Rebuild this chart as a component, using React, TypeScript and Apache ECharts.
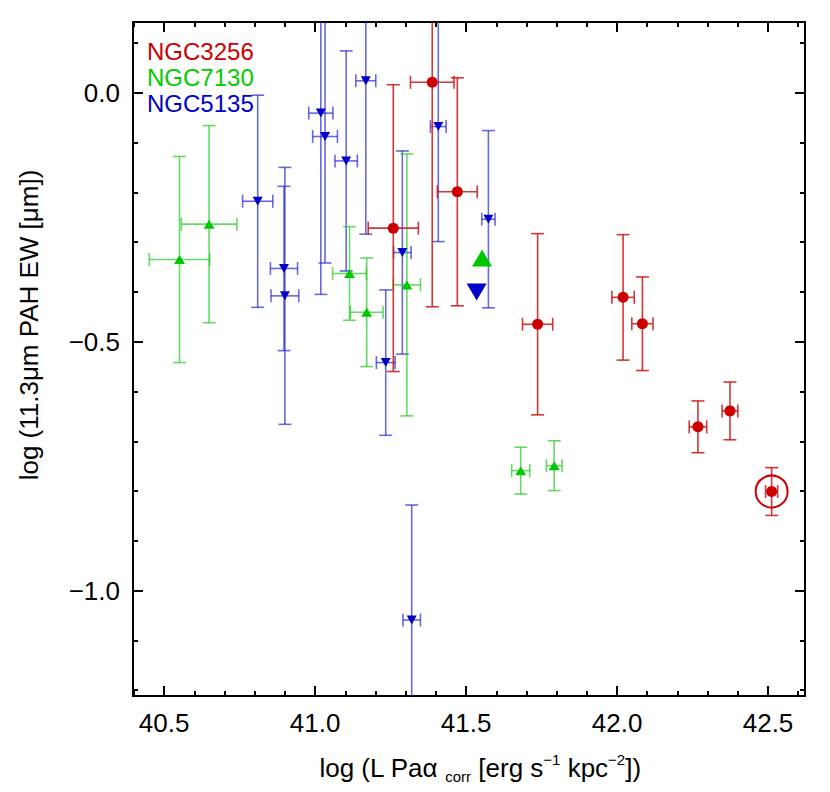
import React, { useEffect, useRef } from "react";
import * as echarts from "echarts";

// ---- data ----
const redX = [41.259, 41.388, 41.471, 41.737, 42.02, 42.084, 42.268, 42.374, 42.512];
const redY = [-0.272, 0.021, -0.199, -0.465, -0.411, -0.464, -0.671, -0.639, -0.801];
const redXErr = [0.083, 0.072, 0.066, 0.05, 0.037, 0.035, 0.029, 0.026, 0.02];
const redYErr = [0.288, 0.451, 0.229, 0.182, 0.126, 0.094, 0.052, 0.058, 0.048];

const greenX = [40.551, 40.649, 41.114, 41.171, 41.304, 41.681, 41.792];
const greenY = [-0.335, -0.264, -0.363, -0.441, -0.386, -0.759, -0.749];
const greenXErr = [0.1, 0.092, 0.056, 0.054, 0.045, 0.03, 0.026];
const greenYErr = [0.207, 0.198, 0.094, 0.109, 0.263, 0.047, 0.05];

const blueX = [40.81, 40.897, 40.9, 41.019, 41.033, 41.103, 41.168, 41.234, 41.289, 41.32, 41.408, 41.574];
const blueY = [-0.218, -0.353, -0.408, -0.041, -0.088, -0.137, 0.024, -0.542, -0.321, -1.059, -0.068, -0.254];
const blueXErr = [0.05, 0.045, 0.046, 0.04, 0.041, 0.037, 0.033, 0.031, 0.029, 0.029, 0.026, 0.022];
const blueYErr = [0.213, 0.165, 0.258, 0.364, 0.254, 0.221, 0.308, 0.146, 0.204, 0.231, 0.231, 0.178];

const greenMean = [41.553, -0.332];
const blueMean = [41.535, -0.4];
const circledIndex = 8; // NGC3256 nucleus point circled

const legendNames = ["NGC3256", "NGC7130", "NGC5135"];

const xMajor = [40.5, 41.0, 41.5, 42.0, 42.5];
const xMinor = [40.4, 40.5, 40.6, 40.7, 40.8, 40.9, 41.0, 41.1, 41.2, 41.3, 41.4, 41.5, 41.6, 41.7, 41.8, 41.9, 42.0, 42.1, 42.2, 42.3, 42.4, 42.5, 42.6];
const yMajor = [0.0, -0.5, -1.0];
const yMinor = [0.1, 0.0, -0.1, -0.2, -0.3, -0.4, -0.5, -0.6, -0.7, -0.8, -0.9, -1.0, -1.1, -1.2];

const X_MIN = 40.397;
const X_MAX = 42.6225;
const Y_MIN = -1.2116;
const Y_MAX = 0.142;

const RED = "#cc0000";
const GREEN = "#00c800";
const BLUE = "#0000c8";
const FONT = "'Liberation Sans', Arial, Helvetica, sans-serif";

function zip4(x: number[], y: number[], xe: number[], ye: number[]) {
  return x.map((v, i) => [v, y[i], xe[i], ye[i]]);
}

function errRender(color: string) {
  return (params: any, api: any) => {
    const x = api.value(0);
    const y = api.value(1);
    const xe = api.value(2);
    const ye = api.value(3);
    const top = api.coord([x, y + ye]);
    const bot = api.coord([x, y - ye]);
    const lft = api.coord([x - xe, y]);
    const rgt = api.coord([x + xe, y]);
    const cw = 6.5;
    const st = { stroke: color, lineWidth: 1.6, fill: null };
    const cs = params.coordSys;
    const line = (x1: number, y1: number, x2: number, y2: number) => ({
      type: "line",
      shape: { x1, y1, x2, y2 },
      style: st,
    });
    return {
      type: "group",
      clipPath: { type: "rect", shape: { x: cs.x, y: cs.y, width: cs.width, height: cs.height } },
      children: [
        line(top[0], top[1], bot[0], bot[1]),
        line(top[0] - cw, top[1], top[0] + cw, top[1]),
        line(bot[0] - cw, bot[1], bot[0] + cw, bot[1]),
        line(lft[0], lft[1], rgt[0], rgt[1]),
        line(lft[0], lft[1] - cw, lft[0], lft[1] + cw),
        line(rgt[0], rgt[1] - cw, rgt[0], rgt[1] + cw),
      ],
    };
  };
}

const fmt = (v: number) => (v < 0 ? "\u2212" + Math.abs(v).toFixed(1) : v.toFixed(1));

function xAxisDef(position: string, ticks: number[], len: number, line: boolean, labels: boolean) {
  return {
    type: "value",
    position,
    min: X_MIN,
    max: X_MAX,
    axisLine: { show: line, onZero: false, lineStyle: { color: "#000", width: 2 } },
    axisTick: { show: true, inside: true, length: len, customValues: ticks, lineStyle: { color: "#000", width: 2 } },
    axisLabel: {
      show: labels,
      customValues: xMajor,
      formatter: fmt,
      fontSize: 26,
      fontFamily: FONT,
      color: "#000",
      margin: 14,
    },
    splitLine: { show: false },
  };
}

function yAxisDef(position: string, ticks: number[], len: number, line: boolean, labels: boolean) {
  return {
    type: "value",
    position,
    min: Y_MIN,
    max: Y_MAX,
    axisLine: { show: line, onZero: false, lineStyle: { color: "#000", width: 2 } },
    axisTick: { show: true, inside: true, length: len, customValues: ticks, lineStyle: { color: "#000", width: 2 } },
    axisLabel: {
      show: labels,
      customValues: yMajor,
      formatter: fmt,
      fontSize: 26,
      fontFamily: FONT,
      color: "#000",
      margin: 13,
    },
    splitLine: { show: false },
  };
}

export default function App() {
  const ref = useRef<HTMLDivElement>(null);
  useEffect(() => {
    if (!ref.current) return;
    const chart = echarts.init(ref.current, null, { renderer: "svg" });
    const red = zip4(redX, redY, redXErr, redYErr);
    const green = zip4(greenX, greenY, greenXErr, greenYErr);
    const blue = zip4(blueX, blueY, blueXErr, blueYErr);
    chart.setOption({
      animation: false,
      backgroundColor: "#fff",
      grid: { left: 133, right: 25, top: 22, bottom: 96, containLabel: false },
      xAxis: [
        xAxisDef("bottom", xMajor, 10, true, true),
        xAxisDef("bottom", xMinor, 5, false, false),
        xAxisDef("top", xMajor, 10, true, false),
        xAxisDef("top", xMinor, 5, false, false),
      ],
      yAxis: [
        yAxisDef("left", yMajor, 10, true, true),
        yAxisDef("left", yMinor, 5, false, false),
        yAxisDef("right", yMajor, 10, true, false),
        yAxisDef("right", yMinor, 5, false, false),
      ],
      graphic: [
        {
          type: "text",
          left: 147,
          top: 39,
          style: { text: legendNames[0], fill: RED, font: `24px ${FONT}` },
        },
        {
          type: "text",
          left: 147,
          top: 65,
          style: { text: legendNames[1], fill: "#00cc00", font: `24px ${FONT}` },
        },
        {
          type: "text",
          left: 147,
          top: 91,
          style: { text: legendNames[2], fill: BLUE, font: `24px ${FONT}` },
        },
        {
          type: "text",
          x: 480,
          y: 768,
          style: {
            text: "{a|log (L Pa\u03b1 }{b|corr}{a| [erg s}{c|\u22121}{a| kpc}{c|\u22122}{a|])}",
            align: "center",
            verticalAlign: "middle",
            fill: "#000",
            rich: {
              a: { fontSize: 26, fontFamily: FONT, lineHeight: 32, fill: "#000" },
              b: { fontSize: 15, fontFamily: FONT, lineHeight: 32, verticalAlign: "bottom", fill: "#000" },
              c: { fontSize: 15, fontFamily: FONT, lineHeight: 32, verticalAlign: "top", fill: "#000" },
            },
          },
        },
        {
          type: "text",
          x: 29,
          y: 325,
          rotation: Math.PI / 2,
          style: {
            text: "log (11.3\u03bcm PAH EW [\u03bcm])",
            align: "center",
            verticalAlign: "middle",
            fill: "#000",
            font: `26px ${FONT}`,
          },
        },
      ],
      series: [
        { type: "custom", name: "NGC5135 err", data: blue, renderItem: errRender("rgba(40,40,210,0.7)"), encode: { x: 0, y: 1 }, z: 2 },
        { type: "custom", name: "NGC7130 err", data: green, renderItem: errRender("rgba(40,200,40,0.7)"), encode: { x: 0, y: 1 }, z: 2 },
        { type: "custom", name: "NGC3256 err", data: red, renderItem: errRender("rgba(204,20,20,0.85)"), encode: { x: 0, y: 1 }, z: 2 },
        {
          type: "scatter",
          name: "NGC5135",
          data: blue.map((d) => [d[0], d[1]]),
          symbol: "triangle",
          symbolRotate: 180,
          symbolSize: [10, 9],
          itemStyle: { color: BLUE, opacity: 1 },
          z: 5,
        },
        {
          type: "scatter",
          name: "NGC7130",
          data: green.map((d) => [d[0], d[1]]),
          symbol: "triangle",
          symbolSize: [11, 9],
          itemStyle: { color: GREEN, opacity: 1 },
          z: 5,
        },
        {
          type: "scatter",
          name: "NGC3256",
          data: red.map((d) => [d[0], d[1]]),
          symbol: "circle",
          symbolSize: 11,
          itemStyle: { color: RED, opacity: 1 },
          z: 5,
        },
        {
          type: "scatter",
          name: "NGC3256 nucleus",
          data: [[redX[circledIndex], redY[circledIndex]]],
          symbol: "circle",
          symbolSize: 32,
          itemStyle: { color: "rgba(0,0,0,0)", borderColor: RED, borderWidth: 2, opacity: 1 },
          z: 4,
        },
        {
          type: "scatter",
          name: "NGC7130 mean",
          data: [greenMean],
          symbol: "triangle",
          symbolSize: [20, 17],
          itemStyle: { color: GREEN, opacity: 1 },
          z: 5,
        },
        {
          type: "scatter",
          name: "NGC5135 mean",
          data: [blueMean],
          symbol: "triangle",
          symbolRotate: 180,
          symbolSize: [20, 17],
          itemStyle: { color: BLUE, opacity: 1 },
          z: 5,
        },
      ],
    });
    return () => chart.dispose();
  }, []);
  return <div ref={ref} style={{ width: 830, height: 792, position: "absolute", left: 0, top: 0 }} />;
}
